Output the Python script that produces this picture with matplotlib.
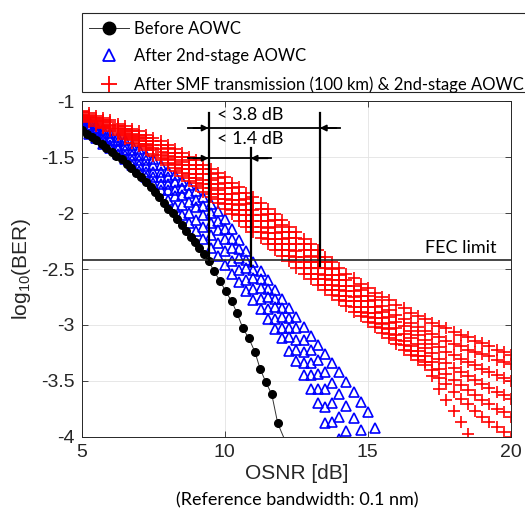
import matplotlib
matplotlib.use("Agg")
import matplotlib.pyplot as plt
from matplotlib.lines import Line2D
from matplotlib.patches import Rectangle

# before AOWC (black dots)
before_osnr = [5.00, 5.17, 5.34, 5.51, 5.69, 5.86, 6.04, 6.21, 6.39, 6.56,
               6.72, 6.89, 7.06, 7.23, 7.40, 7.55, 7.71, 7.87, 8.02, 8.18,
               8.33, 8.49, 8.64, 8.80, 8.95, 9.11, 9.27, 9.44, 9.62, 9.84,
               10.03, 10.24, 10.42, 10.63, 10.84, 11.05, 11.23, 11.43, 11.64, 11.85,
               12.30]
before_ber = [-1.26, -1.29, -1.32, -1.35, -1.38, -1.42, -1.45, -1.49, -1.52, -1.56,
              -1.60, -1.64, -1.68, -1.72, -1.77, -1.81, -1.86, -1.91, -1.96, -2.00,
              -2.05, -2.11, -2.16, -2.21, -2.26, -2.31, -2.37, -2.43, -2.52, -2.61,
              -2.70, -2.79, -2.89, -3.03, -3.12, -3.24, -3.39, -3.51, -3.62, -3.88,
              -4.15]

# after 2nd-stage AOWC (blue cloud), traces from upper to lower edge
blue_osnr = [5.0, 5.25, 5.5, 5.75, 6.0, 6.25, 6.5, 6.75, 7.0, 7.25, 7.5, 7.75,
             8.0, 8.25, 8.5, 8.75, 9.0, 9.25, 9.5, 9.75, 10.0, 10.25, 10.5, 10.75,
             11.0, 11.25, 11.5, 11.75, 12.0, 12.25, 12.5, 12.75, 13.0, 13.25, 13.5, 13.75,
             14.0, 14.25, 14.5, 14.75, 15.0, 15.25, 15.5]
blue_ber_1 = [-1.15, -1.18, -1.21, -1.25, -1.28, -1.32, -1.35, -1.39, -1.43, -1.48,
              -1.52, -1.57, -1.62, -1.66, -1.71, -1.75, -1.80, -1.86, -1.92, -1.98,
              -2.05, -2.14, -2.24, -2.34, -2.44, -2.52, -2.60, -2.69, -2.77, -2.85,
              -2.93, -3.02, -3.10, -3.18, -3.26, -3.34, -3.42, -3.51, -3.60, -3.69,
              -3.78, -3.92, -4.06]
blue_ber_2 = [-1.17, -1.21, -1.24, -1.28, -1.32, -1.36, -1.39, -1.44, -1.48, -1.53,
              -1.57, -1.63, -1.68, -1.72, -1.78, -1.82, -1.88, -1.94, -2.00, -2.07,
              -2.14, -2.23, -2.32, -2.42, -2.51, -2.59, -2.68, -2.77, -2.85, -2.94,
              -3.03, -3.13, -3.22, -3.31, -3.42, -3.52, -3.62, -3.72, -3.83, -3.94,
              -4.05]
blue_ber_3 = [-1.20, -1.24, -1.27, -1.32, -1.35, -1.40, -1.44, -1.48, -1.53, -1.58,
              -1.63, -1.68, -1.74, -1.79, -1.84, -1.90, -1.95, -2.02, -2.09, -2.15,
              -2.23, -2.31, -2.40, -2.49, -2.58, -2.67, -2.75, -2.84, -2.93, -3.03,
              -3.13, -3.24, -3.34, -3.44, -3.57, -3.70, -3.82, -3.95, -4.08]
blue_ber_4 = [-1.23, -1.26, -1.30, -1.35, -1.39, -1.43, -1.48, -1.53, -1.57, -1.63,
              -1.68, -1.74, -1.79, -1.85, -1.93, -2.00, -2.06, -2.12, -2.20, -2.27,
              -2.34, -2.43, -2.51, -2.60, -2.68, -2.77, -2.86, -2.95, -3.03, -3.11,
              -3.22, -3.34, -3.45, -3.57, -3.73, -3.87, -4.02]
blue_ber_5 = [-1.25, -1.29, -1.33, -1.38, -1.42, -1.47, -1.52, -1.57, -1.62, -1.68,
              -1.73, -1.79, -1.88, -1.95, -2.02, -2.09, -2.16, -2.23, -2.31, -2.38,
              -2.46, -2.54, -2.62, -2.70, -2.78, -2.86, -2.95, -3.04, -3.12, -3.23,
              -3.32, -3.45, -3.57, -3.70, -3.88, -4.05]

# after SMF transmission (100 km) & 2nd-stage AOWC (red cloud)
red_osnr = [5.0, 5.25, 5.5, 5.75, 6.0, 6.25, 6.5, 6.75, 7.0, 7.25, 7.5, 7.75,
            8.0, 8.25, 8.5, 8.75, 9.0, 9.25, 9.5, 9.75, 10.0, 10.25, 10.5, 10.75,
            11.0, 11.25, 11.5, 11.75, 12.0, 12.25, 12.5, 12.75, 13.0, 13.25, 13.5, 13.75,
            14.0, 14.25, 14.5, 14.75, 15.0, 15.25, 15.5, 15.75, 16.0, 16.25, 16.5, 16.75,
            17.0, 17.25, 17.5, 17.75, 18.0, 18.25, 18.5, 18.75, 19.0, 19.25, 19.5, 19.75,
            20.0]
red_ber_1 = [-1.09, -1.11, -1.13, -1.15, -1.17, -1.20, -1.22, -1.25, -1.27, -1.30,
             -1.33, -1.36, -1.39, -1.43, -1.46, -1.50, -1.53, -1.57, -1.61, -1.64,
             -1.68, -1.73, -1.77, -1.82, -1.86, -1.91, -1.96, -2.01, -2.06, -2.12,
             -2.17, -2.23, -2.28, -2.33, -2.39, -2.44, -2.49, -2.54, -2.58, -2.63,
             -2.67, -2.71, -2.75, -2.78, -2.82, -2.85, -2.89, -2.92, -2.95, -2.98,
             -3.01, -3.03, -3.06, -3.09, -3.11, -3.14, -3.16, -3.19, -3.22, -3.24,
             -3.27]
red_ber_2 = [-1.10, -1.12, -1.15, -1.17, -1.19, -1.22, -1.25, -1.27, -1.30, -1.33,
             -1.36, -1.39, -1.42, -1.46, -1.50, -1.53, -1.57, -1.61, -1.65, -1.69,
             -1.73, -1.78, -1.82, -1.87, -1.91, -1.96, -2.01, -2.06, -2.11, -2.17,
             -2.22, -2.28, -2.33, -2.39, -2.44, -2.50, -2.55, -2.60, -2.65, -2.69,
             -2.74, -2.78, -2.83, -2.87, -2.91, -2.95, -2.98, -3.02, -3.05, -3.08,
             -3.11, -3.14, -3.17, -3.19, -3.22, -3.24, -3.26, -3.28, -3.31, -3.33,
             -3.35]
red_ber_3 = [-1.12, -1.14, -1.17, -1.19, -1.21, -1.24, -1.27, -1.29, -1.32, -1.36,
             -1.39, -1.43, -1.46, -1.50, -1.54, -1.57, -1.61, -1.65, -1.70, -1.74,
             -1.78, -1.83, -1.88, -1.92, -1.97, -2.02, -2.07, -2.12, -2.17, -2.22,
             -2.28, -2.33, -2.38, -2.44, -2.49, -2.55, -2.60, -2.65, -2.70, -2.74,
             -2.79, -2.84, -2.88, -2.93, -2.97, -3.01, -3.05, -3.09, -3.13, -3.17,
             -3.20, -3.24, -3.27, -3.30, -3.33, -3.36, -3.39, -3.42, -3.45, -3.47,
             -3.50]
red_ber_4 = [-1.13, -1.15, -1.18, -1.20, -1.22, -1.25, -1.28, -1.31, -1.34, -1.38,
             -1.42, -1.45, -1.49, -1.53, -1.57, -1.61, -1.65, -1.70, -1.74, -1.79,
             -1.83, -1.88, -1.93, -1.97, -2.02, -2.07, -2.13, -2.18, -2.23, -2.28,
             -2.34, -2.39, -2.44, -2.49, -2.55, -2.60, -2.65, -2.70, -2.75, -2.79,
             -2.84, -2.89, -2.94, -2.98, -3.03, -3.08, -3.12, -3.17, -3.21, -3.25,
             -3.30, -3.34, -3.38, -3.42, -3.46, -3.49, -3.53, -3.56, -3.60, -3.63,
             -3.66]
red_ber_5 = [-1.14, -1.17, -1.19, -1.22, -1.24, -1.27, -1.30, -1.33, -1.36, -1.40,
             -1.44, -1.48, -1.52, -1.56, -1.61, -1.65, -1.69, -1.74, -1.78, -1.83,
             -1.87, -1.92, -1.97, -2.02, -2.07, -2.12, -2.18, -2.23, -2.28, -2.33,
             -2.39, -2.44, -2.49, -2.54, -2.59, -2.64, -2.69, -2.74, -2.79, -2.84,
             -2.89, -2.94, -2.99, -3.04, -3.09, -3.14, -3.19, -3.23, -3.28, -3.33,
             -3.39, -3.44, -3.49, -3.54, -3.58, -3.63, -3.67, -3.71, -3.75, -3.78,
             -3.82]
red_ber_6 = [-1.15, -1.18, -1.20, -1.23, -1.25, -1.28, -1.32, -1.35, -1.38, -1.42,
             -1.47, -1.51, -1.55, -1.60, -1.64, -1.69, -1.73, -1.78, -1.83, -1.87,
             -1.92, -1.97, -2.02, -2.07, -2.12, -2.17, -2.23, -2.28, -2.33, -2.38,
             -2.44, -2.49, -2.54, -2.59, -2.64, -2.69, -2.74, -2.79, -2.84, -2.88,
             -2.93, -2.98, -3.03, -3.08, -3.13, -3.18, -3.23, -3.28, -3.33, -3.40,
             -3.47, -3.53, -3.60, -3.66, -3.71, -3.77, -3.82, -3.87, -3.91, -3.96,
             -4.00]
red_ber_7 = [-1.16, -1.19, -1.22, -1.24, -1.27, -1.30, -1.34, -1.37, -1.40, -1.44,
             -1.49, -1.53, -1.57, -1.62, -1.67, -1.71, -1.76, -1.81, -1.86, -1.91,
             -1.96, -2.01, -2.07, -2.12, -2.17, -2.22, -2.28, -2.33, -2.38, -2.43,
             -2.49, -2.54, -2.59, -2.64, -2.69, -2.73, -2.78, -2.83, -2.88, -2.92,
             -2.97, -3.02, -3.07, -3.12, -3.17, -3.22, -3.27, -3.31, -3.36, -3.46,
             -3.57, -3.67, -3.77, -3.87, -3.97, -4.07]

fec_limit = -2.42
x_ticks = [5, 10, 15, 20]
y_ticks = [-4, -3.5, -3, -2.5, -2, -1.5, -1]
y_tick_labels = ["-4", "-3.5", "-3", "-2.5", "-2", "-1.5", "-1"]
legend_labels = ["Before AOWC", "After 2nd-stage AOWC",
                 "After SMF transmission (100 km) & 2nd-stage AOWC"]

# OSNR penalty markers: black / blue / red crossing of the FEC limit
cross_before = 9.43
cross_blue = 10.90
cross_red = 13.32

plt.rcParams["font.family"] = ["Liberation Sans", "DejaVu Sans"]
plt.rcParams["axes.unicode_minus"] = False
plt.rcParams["mathtext.fontset"] = "custom"
plt.rcParams["mathtext.rm"] = "Liberation Sans"
plt.rcParams["mathtext.it"] = "Liberation Sans:italic"

AX_GREY = "#262626"
CALIBRI = ["Lato", "DejaVu Sans"]

fig = plt.figure(figsize=(5.25, 5.11), dpi=100)
ax = fig.add_axes([0.156, 0.145, 0.817, 0.657])

blue_kw = dict(linestyle="none", marker="^", ms=7.5, mfc="none", mec="#0000ff", mew=1.2)
for ber in [blue_ber_1, blue_ber_2, blue_ber_3, blue_ber_4, blue_ber_5]:
    ax.plot(blue_osnr[:len(ber)], ber, **blue_kw)

red_kw = dict(linestyle="none", marker="+", ms=8.5, mec="#ff0000", mew=1.2)
for ber in [red_ber_1, red_ber_2, red_ber_3, red_ber_4, red_ber_5, red_ber_6, red_ber_7]:
    ax.plot(red_osnr[:len(ber)], ber, **red_kw)

ax.plot(before_osnr, before_ber, "-", color="#333333", lw=0.7,
        marker="o", ms=5.5, mfc="k", mec="k")

ax.axhline(fec_limit, color=AX_GREY, lw=1.2, zorder=4)
ax.text(19.5, -2.31, "FEC limit", family=CALIBRI, fontsize=13,
        ha="right", va="center")

# penalty annotation
y_top_arrow = -1.24
y_low_arrow = -1.51
ax.plot([cross_before, cross_before], [-1.11, fec_limit - 0.03], color="k", lw=1.6, zorder=5)
ax.plot([cross_red, cross_red], [-1.11, fec_limit - 0.05], color="k", lw=1.6, zorder=5)
ax.plot([cross_blue, cross_blue], [-1.42, fec_limit - 0.05], color="k", lw=1.6, zorder=5)
ax.plot([8.71, 14.02], [y_top_arrow, y_top_arrow], color="k", lw=1.3, zorder=5)
ax.plot([8.71, 11.61], [y_low_arrow, y_low_arrow], color="k", lw=1.3, zorder=5)
arrow = dict(arrowstyle="-|>", mutation_scale=9, color="k", lw=1.3, shrinkA=0, shrinkB=0)
for start, end, yy in [(8.9, cross_before, y_top_arrow), (13.9, cross_red, y_top_arrow),
                       (8.9, cross_before, y_low_arrow), (11.5, cross_blue, y_low_arrow)]:
    ax.annotate("", xy=(end, yy), xytext=(start, yy), arrowprops=arrow, zorder=6)
ax.text(9.72, -1.125, "< 3.8 dB", family=CALIBRI, fontsize=13, va="center", ha="left")
ax.text(9.72, -1.34, "< 1.4 dB", family=CALIBRI, fontsize=13, va="center", ha="left")

ax.set_xlim(5, 20)
ax.set_ylim(-4, -1)
ax.set_xticks(x_ticks)
ax.set_yticks(y_ticks)
ax.set_yticklabels(y_tick_labels)
ax.grid(True, color="#e3e3e3", lw=0.6)
ax.set_axisbelow(True)
ax.tick_params(direction="in", length=4, width=0.6, top=True, right=True,
               labelsize=14, colors=AX_GREY, pad=5)
for spine in ax.spines.values():
    spine.set_color(AX_GREY)
    spine.set_linewidth(0.7)

ax.set_xlabel("OSNR [dB]", fontsize=15, color=AX_GREY, labelpad=2)
ax.set_ylabel("log$_{10}$(BER)", fontsize=15, color=AX_GREY, labelpad=6)
fig.text(0.566, 1 - 500 / 511, "(Reference bandwidth: 0.1 nm)", family=CALIBRI,
         fontsize=13, ha="center", va="center")

# legend box runs past the right edge of the figure, as in the original
fig.add_artist(Rectangle((82 / 525, 1 - 92 / 511), 0.9, 79 / 511,
                         transform=fig.transFigure, facecolor="white",
                         edgecolor=AX_GREY, lw=0.8, clip_on=False))
handles = [
    Line2D([], [], color="#333333", lw=0.7, marker="o", ms=9, mfc="k", mec="k"),
    Line2D([], [], linestyle="none", marker="^", ms=8, mfc="none", mec="#0000ff", mew=1.3),
    Line2D([], [], linestyle="none", marker="+", ms=11, mec="#ff0000", mew=1.3),
]
leg = fig.legend(handles, legend_labels, loc="upper left",
                 bbox_to_anchor=(82 / 525, 1 - 14 / 511), borderaxespad=0,
                 prop={"family": CALIBRI, "size": 12}, handlelength=2.4,
                 handletextpad=0.35, borderpad=0.4, labelspacing=0.7,
                 frameon=False)

fig.savefig("out.png", dpi=100)
